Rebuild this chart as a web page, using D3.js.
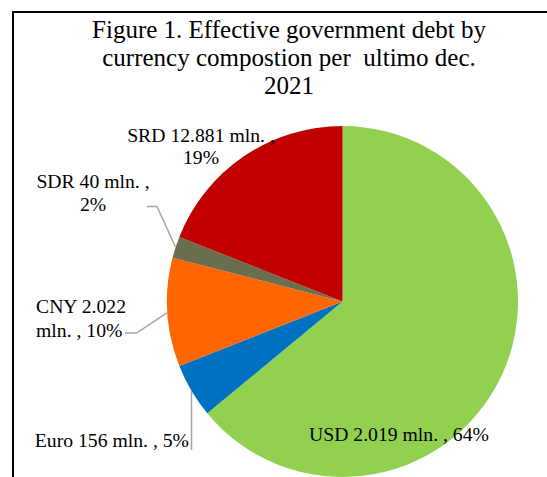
<!DOCTYPE html>
<html>
<head>
<meta charset="utf-8">
<script src="https://cdn.jsdelivr.net/npm/d3@7"></script>
<style>
  html, body { margin: 0; padding: 0; background: #fff; }
  svg { display: block; }
  text { font-family: "Liberation Serif", "Times New Roman", serif; fill: #000; white-space: pre; }
</style>
</head>
<body>
<script>
// Currency composition of the effective government debt, end of December 2021
const currencies = ["USD", "Euro", "CNY", "SDR", "SRD"];
const amounts = ["2.019", "156", "2.022", "40", "12.881"]; // mln., in own currency
const shares = [64, 5, 10, 2, 19];                       // percent of total
const colors = ["#92D050", "#0070C0", "#FF6600", "#6B6E4E", "#C00000"];
const titleLines = [
  "Figure 1. Effective government debt by",
  "currency compostion per  ultimo dec.",
  "2021"
];

const W = 547, H = 477;
const cx = 342.5, cy = 301.5, R = 175.5;

const svg = d3.select("body").append("svg")
  .attr("width", W).attr("height", H);

// chart frame (continues past the right and bottom edges)
svg.append("rect")
  .attr("x", 13).attr("y", 12)
  .attr("width", 700).attr("height", 700)
  .attr("fill", "none").attr("stroke", "#000").attr("stroke-width", 2);

// title
svg.append("text")
  .attr("text-anchor", "middle")
  .attr("font-size", 25)
  .selectAll("tspan").data(titleLines).join("tspan")
  .attr("x", 289)
  .attr("y", (d, i) => 38 + i * 28)
  .text(d => d);

const data = currencies.map((c, i) => ({
  currency: c, amount: amounts[i], share: shares[i], color: colors[i]
}));

const pie = d3.pie().sort(null).value(d => d.share);
const arcs = pie(data);
const arc = d3.arc().innerRadius(0).outerRadius(R);

const g = svg.append("g").attr("transform", `translate(${cx},${cy})`);
g.selectAll("path").data(arcs).join("path")
  .attr("d", arc)
  .attr("fill", d => d.data.color);

// point on the rim at the middle of a slice, in page coordinates
function rimPoint(a) {
  const m = (a.startAngle + a.endAngle) / 2;
  return [cx + R * Math.sin(m), cy - R * Math.cos(m)];
}

// label layout per currency: text lines, anchor, position, optional leader elbow
const labelLayout = {
  USD:  { lines: d => [`${d.currency} ${d.amount} mln. , ${d.share}%`], x: 399, y: 441, anchor: "middle" },
  Euro: { lines: d => [`${d.currency} ${d.amount} mln. , ${d.share}%`], x: 189, y: 447, anchor: "end",
          leader: p => [[191.5, 450], [191.5, p[1]]] },
  CNY:  { lines: d => [`${d.currency} ${d.amount}`, `mln. , ${d.share}%`], x: 36, y: 313, dy: 23.5, anchor: "start",
          leader: p => [[125, 333], [136.5, 333], p] },
  SDR:  { lines: d => [`${d.currency} ${d.amount} mln. ,`, `${d.share}%`], x: 93, y: 188, dy: 22.5, anchor: "middle",
          leader: p => [[147, 206.5], [157, 206.5], p] },
  SRD:  { lines: d => [`${d.currency} ${d.amount} mln. ,`, `${d.share}%`], x: 201, y: 141.5, dy: 22, anchor: "middle" }
};

const line = d3.line();
arcs.forEach(a => {
  const L = labelLayout[a.data.currency];
  if (L.leader) {
    const p = rimPoint(a);
    svg.append("path")
      .attr("d", line(L.leader(p)))
      .attr("fill", "none")
      .attr("stroke", "#A6A6A6")
      .attr("stroke-width", 1.5);
  }
  svg.append("text")
    .attr("text-anchor", L.anchor)
    .attr("font-size", 19.7)
    .selectAll("tspan").data(L.lines(a.data)).join("tspan")
    .attr("x", L.x)
    .attr("y", (d, i) => L.y + i * (L.dy || 0))
    .text(d => d);
});
</script>
</body>
</html>
